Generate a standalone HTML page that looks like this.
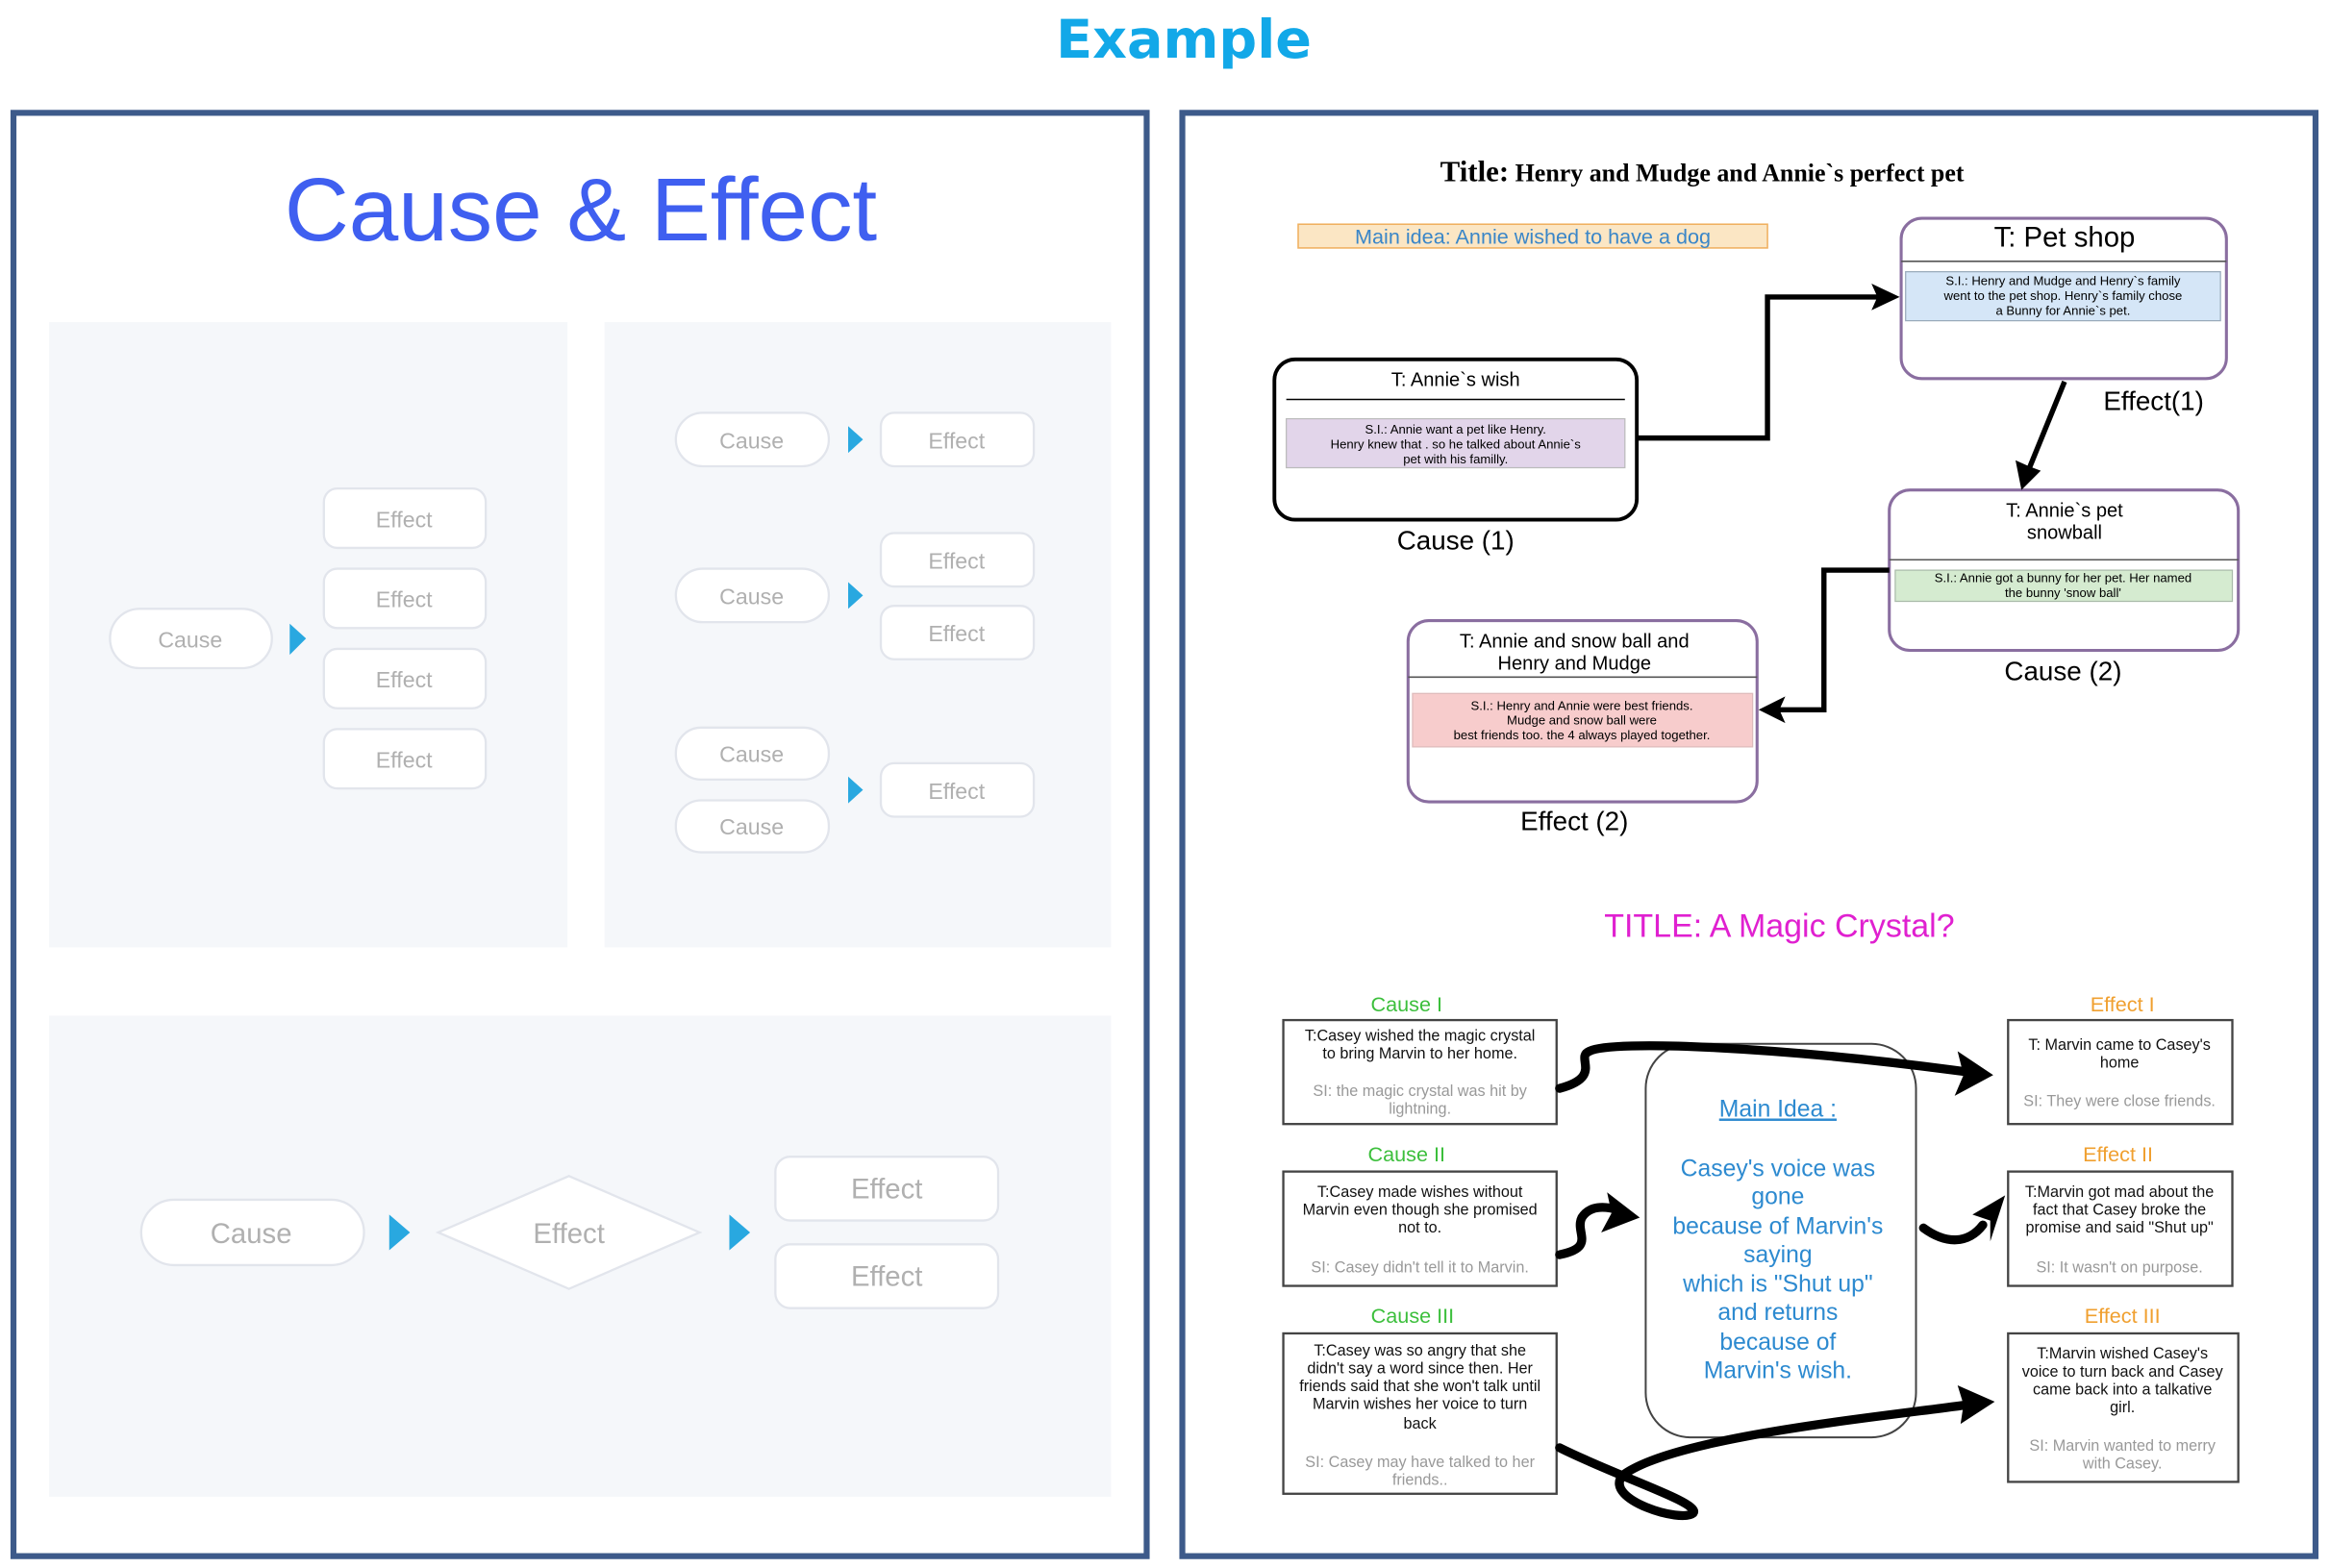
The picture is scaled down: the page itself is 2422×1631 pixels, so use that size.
<!DOCTYPE html>
<html><head><meta charset="utf-8"><style>
html,body{margin:0;padding:0;background:#fff;width:2422px;height:1631px;overflow:hidden}
svg{display:block}
text{font-family:"Liberation Sans",sans-serif}
.pl{fill:#fff;stroke:#e2e5ec;stroke-width:1.5}
.pt{fill:#b0b0b0;font-size:15px;text-anchor:middle}
.tri{fill:#29a8e0}
.bx{fill:#fff;stroke:#444;stroke-width:1.5}
.bt{font-size:10.5px;text-anchor:middle;fill:#111}
.bg{font-size:10.5px;text-anchor:middle;fill:#999}
.cl{font-size:14px;text-anchor:middle;fill:#3cbf3c}
.el{font-size:14px;text-anchor:middle;fill:#f0a030}
.mi{font-size:16px;text-anchor:middle;fill:#2d8ad0}
.thick{fill:none;stroke:#000;stroke-width:6;stroke-linecap:round}
</style></head><body>
<svg width="2422" height="1631" viewBox="0 0 1568 1056" xmlns="http://www.w3.org/2000/svg">
<text x="797" y="39" text-anchor="middle" style="font-family:'DejaVu Sans',sans-serif;font-weight:bold;font-size:36px;fill:#12a8e8">Example</text>
<rect x="9" y="76" width="763" height="972" fill="#fff" stroke="#3d5a8a" stroke-width="4"/>
<rect x="796" y="76" width="763" height="972" fill="#fff" stroke="#3d5a8a" stroke-width="4"/>
<text x="391" y="162" text-anchor="middle" style="font-size:60px;fill:#3f5ff0">Cause &amp; Effect</text>
<rect x="33" y="217" width="349" height="421" fill="#f5f7fa"/>
<rect x="407" y="217" width="341" height="421" fill="#f5f7fa"/>
<rect x="33" y="684" width="715" height="324" fill="#f5f7fa"/>
<rect class="pl" x="74" y="410" width="109" height="40" rx="20"/><text class="pt" x="128" y="436">Cause</text>
<polygon class="tri" points="195,420 206,430 195,441"/>
<rect class="pl" x="218" y="329" width="109" height="40" rx="9"/><text class="pt" x="272" y="355">Effect</text>
<rect class="pl" x="218" y="383" width="109" height="40" rx="9"/><text class="pt" x="272" y="409">Effect</text>
<rect class="pl" x="218" y="437" width="109" height="40" rx="9"/><text class="pt" x="272" y="463">Effect</text>
<rect class="pl" x="218" y="491" width="109" height="40" rx="9"/><text class="pt" x="272" y="517">Effect</text>
<rect class="pl" x="455" y="278" width="103" height="36" rx="18"/><text class="pt" x="506" y="302">Cause</text>
<polygon class="tri" points="571,287 581,296 571,305"/>
<rect class="pl" x="593" y="278" width="103" height="36" rx="9"/><text class="pt" x="644" y="302">Effect</text>
<rect class="pl" x="455" y="383" width="103" height="36" rx="18"/><text class="pt" x="506" y="407">Cause</text>
<polygon class="tri" points="571,392 581,401 571,410"/>
<rect class="pl" x="593" y="359" width="103" height="36" rx="9"/><text class="pt" x="644" y="383">Effect</text>
<rect class="pl" x="593" y="408" width="103" height="36" rx="9"/><text class="pt" x="644" y="432">Effect</text>
<rect class="pl" x="455" y="490" width="103" height="35" rx="17"/><text class="pt" x="506" y="513">Cause</text>
<rect class="pl" x="455" y="539" width="103" height="35" rx="17"/><text class="pt" x="506" y="562">Cause</text>
<polygon class="tri" points="571,523 581,532 571,541"/>
<rect class="pl" x="593" y="514" width="103" height="36" rx="9"/><text class="pt" x="644" y="538">Effect</text>
<rect class="pl" x="95" y="808" width="150" height="44" rx="22"/><text class="pt" x="169" y="837" style="font-size:19px">Cause</text>
<polygon class="tri" points="262,818 276,830 262,842"/>
<polygon class="pl" points="295,830 383,792 471,830 383,868"/><text class="pt" x="383" y="837" style="font-size:19px">Effect</text>
<polygon class="tri" points="491,818 505,830 491,842"/>
<rect class="pl" x="522" y="779" width="150" height="43" rx="10"/><text class="pt" x="597" y="807" style="font-size:19px">Effect</text>
<rect class="pl" x="522" y="838" width="150" height="43" rx="10"/><text class="pt" x="597" y="866" style="font-size:19px">Effect</text>

<text x="1146" y="122" text-anchor="middle" style="font-family:'Liberation Serif',serif;font-weight:bold;font-size:16.8px"><tspan style="font-size:20px">Title:</tspan> Henry and Mudge and Annie`s perfect pet</text>
<rect x="874" y="151" width="316" height="16" fill="#fbe6c4" stroke="#f0b060" stroke-width="1"/>
<text x="1032" y="164" text-anchor="middle" style="font-size:14px;fill:#3a86c8">Main idea: Annie wished to have a dog</text>

<rect x="1280" y="147" width="219" height="108" rx="14" fill="#fff" stroke="#8a6ea0" stroke-width="2"/>
<text x="1390" y="166" text-anchor="middle" style="font-size:19px">T: Pet shop</text>
<line x1="1280" y1="176" x2="1499" y2="176" stroke="#555" stroke-width="1"/>
<rect x="1283" y="183" width="212" height="33" fill="#d5e6f7" stroke="#9ab" stroke-width=".8"/>
<text x="1389" y="192" text-anchor="middle" style="font-size:8.5px">S.I.: Henry and Mudge and Henry`s family</text>
<text x="1389" y="202" text-anchor="middle" style="font-size:8.5px">went to the pet shop. Henry`s family chose</text>
<text x="1389" y="212" text-anchor="middle" style="font-size:8.5px">a Bunny for Annie`s pet.</text>

<rect x="858" y="242" width="244" height="108" rx="14" fill="#fff" stroke="#000" stroke-width="2.5"/>
<text x="980" y="260" text-anchor="middle" style="font-size:13px">T: Annie`s wish</text>
<line x1="866" y1="269" x2="1094" y2="269" stroke="#000" stroke-width="1"/>
<rect x="866" y="282" width="228" height="33" fill="#e2d5ea" stroke="#bbb" stroke-width=".8"/>
<text x="980" y="292" text-anchor="middle" style="font-size:8.5px">S.I.: Annie want a pet like Henry.</text>
<text x="980" y="302" text-anchor="middle" style="font-size:8.5px">Henry knew that . so he talked about Annie`s</text>
<text x="980" y="312" text-anchor="middle" style="font-size:8.5px">pet with his familly.</text>
<text x="980" y="370" text-anchor="middle" style="font-size:18px">Cause (1)</text>
<text x="1450" y="276" text-anchor="middle" style="font-size:18px">Effect(1)</text>

<rect x="1272" y="330" width="235" height="108" rx="14" fill="#fff" stroke="#8a6ea0" stroke-width="2"/>
<text x="1390" y="348" text-anchor="middle" style="font-size:13px">T: Annie`s pet</text>
<text x="1390" y="363" text-anchor="middle" style="font-size:13px">snowball</text>
<line x1="1272" y1="377" x2="1507" y2="377" stroke="#555" stroke-width="1"/>
<rect x="1276" y="384" width="227" height="21" fill="#d5ebd0" stroke="#aba" stroke-width=".8"/>
<text x="1389" y="392" text-anchor="middle" style="font-size:8.5px">S.I.: Annie got a bunny for her pet. Her named</text>
<text x="1389" y="402" text-anchor="middle" style="font-size:8.5px">the bunny 'snow ball'</text>
<text x="1389" y="458" text-anchor="middle" style="font-size:18px">Cause (2)</text>

<rect x="948" y="418" width="235" height="122" rx="14" fill="#fff" stroke="#8a6ea0" stroke-width="2"/>
<text x="1060" y="436" text-anchor="middle" style="font-size:13px">T: Annie and snow ball and</text>
<text x="1060" y="451" text-anchor="middle" style="font-size:13px">Henry and Mudge</text>
<line x1="948" y1="456" x2="1183" y2="456" stroke="#555" stroke-width="1"/>
<rect x="951" y="467" width="229" height="36" fill="#f7cccc" stroke="#dbb" stroke-width=".8"/>
<text x="1065" y="478" text-anchor="middle" style="font-size:8.5px">S.I.: Henry and Annie were best friends.</text>
<text x="1065" y="488" text-anchor="middle" style="font-size:8.5px">Mudge and snow ball were</text>
<text x="1065" y="498" text-anchor="middle" style="font-size:8.5px">best friends too. the 4 always played together.</text>
<text x="1060" y="559" text-anchor="middle" style="font-size:18px">Effect (2)</text>

<polyline points="1102,295 1190,295 1190,200 1265,200" fill="none" stroke="#000" stroke-width="3.5"/>
<polygon points="1279,200 1260,191 1264,200 1260,209"/>
<line x1="1390" y1="257" x2="1366" y2="316" stroke="#000" stroke-width="3.5"/>
<polygon points="1361,330 1357,310 1366,314 1374,317"/>
<polyline points="1272,384 1228,384 1228,478 1196,478" fill="none" stroke="#000" stroke-width="3.5"/>
<polygon points="1184,478 1202,469 1198,478 1202,487"/>

<text x="1198" y="631" text-anchor="middle" style="font-size:22px;fill:#e020d0">TITLE: A Magic Crystal?</text>

<text class="cl" x="947" y="681">Cause I</text>
<rect class="bx" x="864" y="687" width="184" height="70"/>
<text class="bt" x="956" y="701">T:Casey wished the magic crystal</text>
<text class="bt" x="956" y="713">to bring Marvin to her home.</text>
<text class="bg" x="956" y="738">SI: the magic crystal was hit by</text>
<text class="bg" x="956" y="750">lightning.</text>

<text class="cl" x="947" y="782">Cause II</text>
<rect class="bx" x="864" y="789" width="184" height="77"/>
<text class="bt" x="956" y="806">T:Casey made wishes without</text>
<text class="bt" x="956" y="818">Marvin even though she promised</text>
<text class="bt" x="956" y="830">not to.</text>
<text class="bg" x="956" y="857">SI: Casey didn't tell it to Marvin.</text>

<text class="cl" x="951" y="891">Cause III</text>
<rect class="bx" x="864" y="898" width="184" height="108"/>
<text class="bt" x="956" y="913">T:Casey was so angry that she</text>
<text class="bt" x="956" y="925">didn't say a word since then. Her</text>
<text class="bt" x="956" y="937">friends said that she won't talk until</text>
<text class="bt" x="956" y="949">Marvin wishes her voice to turn</text>
<text class="bt" x="956" y="962">back</text>
<text class="bg" x="956" y="988">SI: Casey may have talked to her</text>
<text class="bg" x="956" y="1000">friends..</text>

<text class="el" x="1429" y="681">Effect I</text>
<rect class="bx" x="1352" y="687" width="151" height="70"/>
<text class="bt" x="1427" y="707">T: Marvin came to Casey's</text>
<text class="bt" x="1427" y="719">home</text>
<text class="bg" x="1427" y="745">SI: They were close friends.</text>

<text class="el" x="1426" y="782">Effect II</text>
<rect class="bx" x="1352" y="789" width="151" height="77"/>
<text class="bt" x="1427" y="806">T:Marvin got mad about the</text>
<text class="bt" x="1427" y="818">fact that Casey broke the</text>
<text class="bt" x="1427" y="830">promise and said "Shut up"</text>
<text class="bg" x="1427" y="857">SI: It wasn't on purpose.</text>

<text class="el" x="1429" y="891">Effect III</text>
<rect class="bx" x="1352" y="898" width="155" height="100"/>
<text class="bt" x="1429" y="915">T:Marvin wished Casey's</text>
<text class="bt" x="1429" y="927">voice to turn back and Casey</text>
<text class="bt" x="1429" y="939">came back into a talkative</text>
<text class="bt" x="1429" y="951">girl.</text>
<text class="bg" x="1429" y="977">SI: Marvin wanted to merry</text>
<text class="bg" x="1429" y="989">with Casey.</text>

<rect x="1108" y="703" width="182" height="265" rx="30" fill="none" stroke="#444" stroke-width="1.3"/>
<text class="mi" x="1197" y="752" style="text-decoration:underline">Main Idea :</text>
<text class="mi" x="1197" y="792">Casey's voice was</text>
<text class="mi" x="1197" y="811">gone</text>
<text class="mi" x="1197" y="831">because of Marvin's</text>
<text class="mi" x="1197" y="850">saying</text>
<text class="mi" x="1197" y="870">which is "Shut up"</text>
<text class="mi" x="1197" y="889">and returns</text>
<text class="mi" x="1197" y="909">because of</text>
<text class="mi" x="1197" y="928">Marvin's wish.</text>

<path class="thick" d="M1050,733 C1080,725 1060,712 1070,708 C1085,700 1200,705 1325,722"/>
<polygon points="1342,724 1318,708 1322,724 1316,738"/>
<path class="thick" d="M1050,845 C1075,840 1060,830 1065,820 C1070,812 1080,812 1090,815"/>
<polygon points="1104,820 1082,803 1085,817 1078,830"/>
<path class="thick" d="M1295,827 C1310,838 1325,838 1335,825"/>
<polygon points="1350,805 1328,818 1340,822 1340,836"/>
<path class="thick" d="M1050,975 C1090,995 1145,1012 1140,1019 C1132,1026 1080,1010 1092,994 C1125,968 1260,955 1325,946"/>
<polygon points="1343,944 1318,933 1322,946 1320,959"/>
</svg>
</body></html>
